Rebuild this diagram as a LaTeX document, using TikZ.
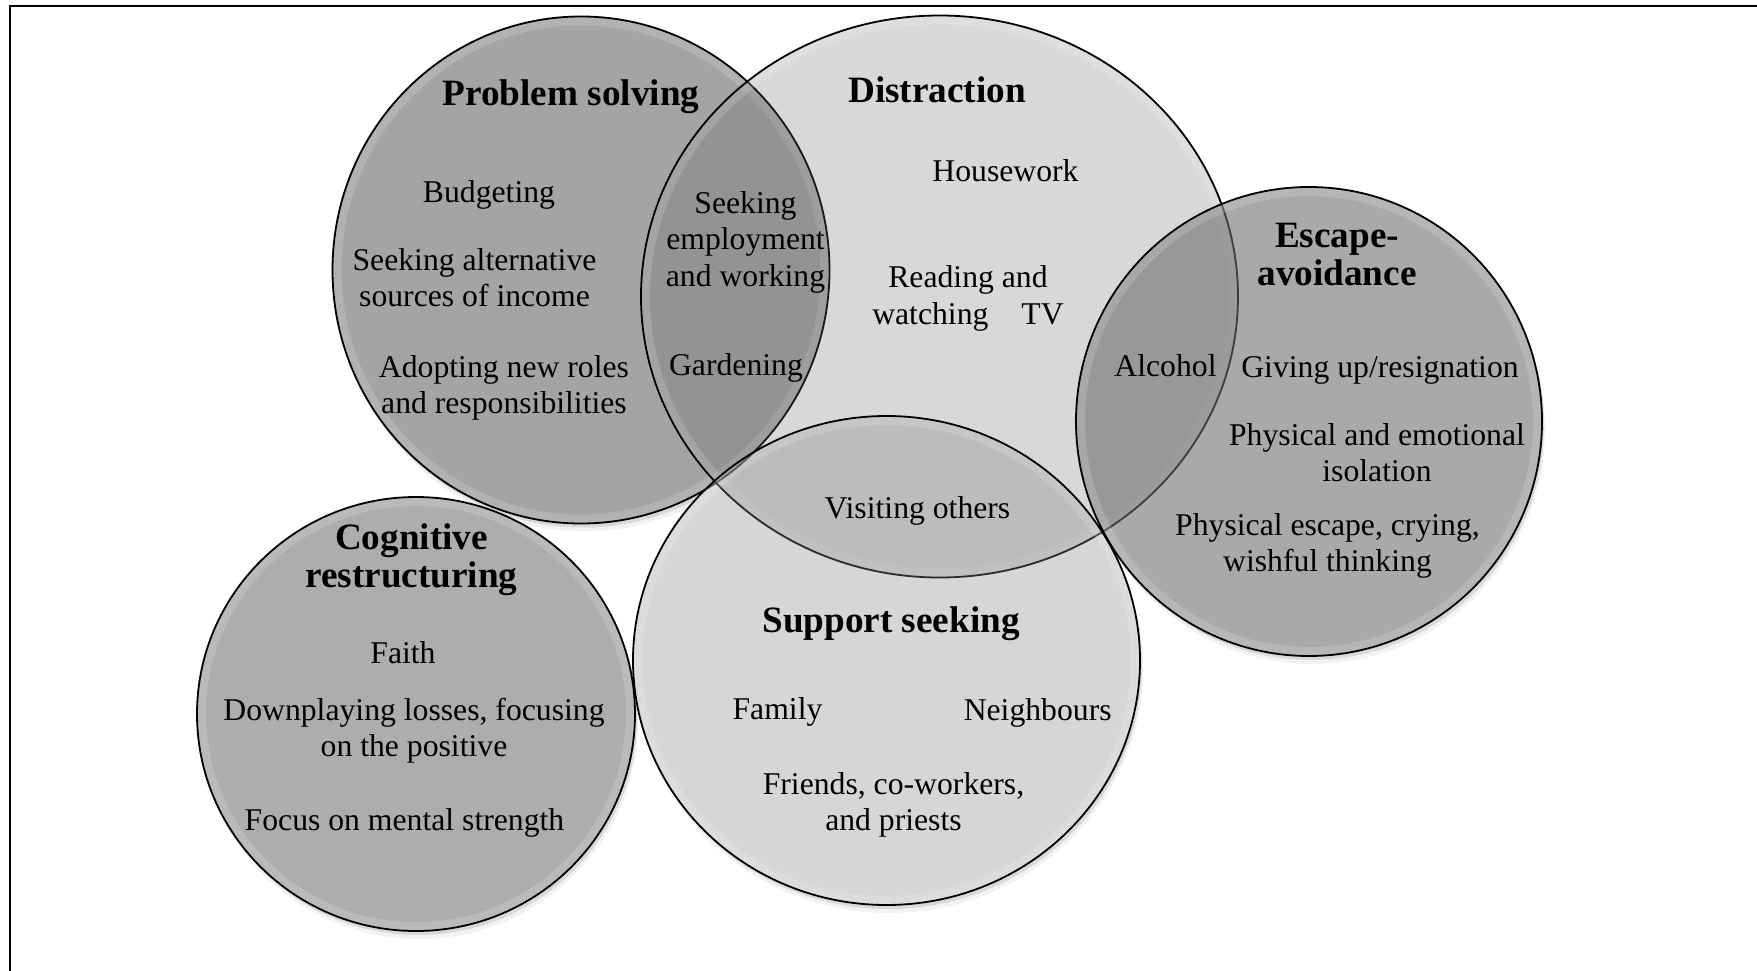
\documentclass[tikz,border=0pt]{standalone}
\usepackage{fontspec}
\setmainfont{Liberation Serif}
\newcommand\vlines[1]{\begin{tabular}[t]{@{}c@{}}#1\end{tabular}}
\def\vennPS{(581,270) ellipse [x radius=248.5, y radius=253.5]}
\def\vennD{(939.5,296.5) ellipse [x radius=298.5, y radius=281]}
\def\vennE{(1309,421.5) ellipse [x radius=233, y radius=234.5]}
\def\vennS{(886.5,660.5) ellipse [x radius=253.5, y radius=244.5]}
\def\vennC{(416,714) ellipse [x radius=219, y radius=217]}
\definecolor{fPS}{gray}{0.30}
\definecolor{fD}{gray}{0.39}
\definecolor{fE}{gray}{0.42}
\definecolor{fS}{gray}{0.515}
\definecolor{fC}{gray}{0.36}
\begin{document}
\begin{tikzpicture}[x=1pt,y=-1pt,
  item/.style={font=\fontsize{31.7}{36.5}\selectfont, inner sep=0pt, anchor=base},
  ttl/.style={font=\fontsize{37.2}{38}\selectfont\bfseries, inner sep=0pt, anchor=base},
  rim/.style={draw=black, line width=1.8pt},
  glow/.style={draw=white, line width=18pt, opacity=0.16},
  shade1/.style={fill=black, opacity=0.10},
  shade2/.style={fill=black, opacity=0.05},
]
\useasboundingbox (0,0) rectangle (1757,971);
\fill[white] (0,0) rectangle (1757,971);
% frame
\draw[line width=2pt] (10,971) -- (10,6.5) -- (1757,6.5);
% soft shadows, only outside all circles
\begin{scope}[even odd rule]
 \clip (-20,-20) rectangle (1780,1000) \vennPS;
 \begin{scope}[even odd rule]
  \clip (-20,-20) rectangle (1780,1000) \vennD;
  \begin{scope}[even odd rule]
   \clip (-20,-20) rectangle (1780,1000) \vennE;
   \begin{scope}[even odd rule]
    \clip (-20,-20) rectangle (1780,1000) \vennS;
    \begin{scope}[even odd rule]
     \clip (-20,-20) rectangle (1780,1000) \vennC;
     \fill[shade1, shift={(2,4)}] \vennPS;
     \fill[shade2, shift={(3,8)}] \vennPS;
     \fill[shade1, shift={(2,4)}] \vennD;
     \fill[shade2, shift={(3,8)}] \vennD;
     \fill[shade1, shift={(2,4)}] \vennE;
     \fill[shade2, shift={(3,8)}] \vennE;
     \fill[shade1, shift={(2,4)}] \vennS;
     \fill[shade2, shift={(3,8)}] \vennS;
     \fill[shade1, shift={(2,4)}] \vennC;
     \fill[shade2, shift={(3,8)}] \vennC;
    \end{scope}
   \end{scope}
  \end{scope}
 \end{scope}
\end{scope}
% circles
\coordinate (cPS) at (581,270);
\coordinate (cD) at (939.5,296.5);
\coordinate (cE) at (1309,421.5);
\coordinate (cS) at (886.5,660.5);
\coordinate (cC) at (416,714);
\fill[fPS, fill opacity=0.504] \vennPS;
\begin{scope}\clip \vennPS; \draw[glow] \vennPS; \end{scope}
\draw[rim] \vennPS;
\fill[fD, fill opacity=0.246] \vennD;
\begin{scope}\clip \vennD; \draw[glow] \vennD; \end{scope}
\draw[rim] \vennD;
\fill[fE, fill opacity=0.58] \vennE;
\begin{scope}\clip \vennE; \draw[glow] \vennE; \end{scope}
\draw[rim] \vennE;
\fill[fS, fill opacity=0.33] \vennS;
\begin{scope}\clip \vennS; \draw[glow] \vennS; \end{scope}
\draw[rim] \vennS;
\fill[fC, fill opacity=0.5] \vennC;
\begin{scope}\clip \vennC; \draw[glow] \vennC; \end{scope}
\draw[rim] \vennC;
\begin{scope}[shift={(0,2.2)}]
% Problem solving
\node[ttl] (tPS) at (571,103.6) {Problem solving};
\node[item] (bud) at (489,200) {Budgeting};
\node[item] (alt) at (474.5,268) {\vlines{Seeking alternative\\sources of income}};
\node[item] (roles) at (504,375) {\vlines{Adopting new roles\\and responsibilities}};
\node[item] (emp) at (745.5,211) {\vlines{Seeking\\employment\\and working}};
\node[item] (gard) at (736,373.5) {Gardening};
% Distraction
\node[ttl] (tD) at (937,100) {Distraction};
\node[item] (house) at (1005.5,179.6) {Housework};
\node[item] (read) at (968,285.5) {\vlines{Reading and\\watching\hspace{33pt}TV}};
\node[item] (visit) at (917.5,516) {Visiting others};
\node[item] (alc) at (1165.5,374.7) {Alcohol};
% Escape-avoidance
\node[ttl] (tE) at (1337,245.7) {\vlines{Escape-\\avoidance}};
\node[item] (give) at (1380,375.5) {Giving up/resignation};
\node[item] (iso) at (1377,443) {\vlines{Physical and emotional\\isolation}};
\node[item] (esc) at (1327.5,533) {\vlines{Physical escape, crying,\\wishful thinking}};
% Cognitive restructuring
\node[ttl] (tC) at (411.5,547) {\vlines{Cognitive\\restructuring}};
\node[item] (faith) at (403,661.5) {Faith};
\node[item] (down) at (414,718) {\vlines{Downplaying losses, focusing\\on the positive}};
\node[item] (ment) at (404.5,828) {Focus on mental strength};
% Support seeking
\node[ttl] (tS) at (891,630) {Support seeking};
\node[item] (fam) at (777.5,717) {Family};
\node[item] (neigh) at (1037.7,718) {Neighbours};
\node[item] (friends) at (893.5,792) {\vlines{Friends, co-workers,\\and priests}};
\end{scope}
\end{tikzpicture}
\end{document}
